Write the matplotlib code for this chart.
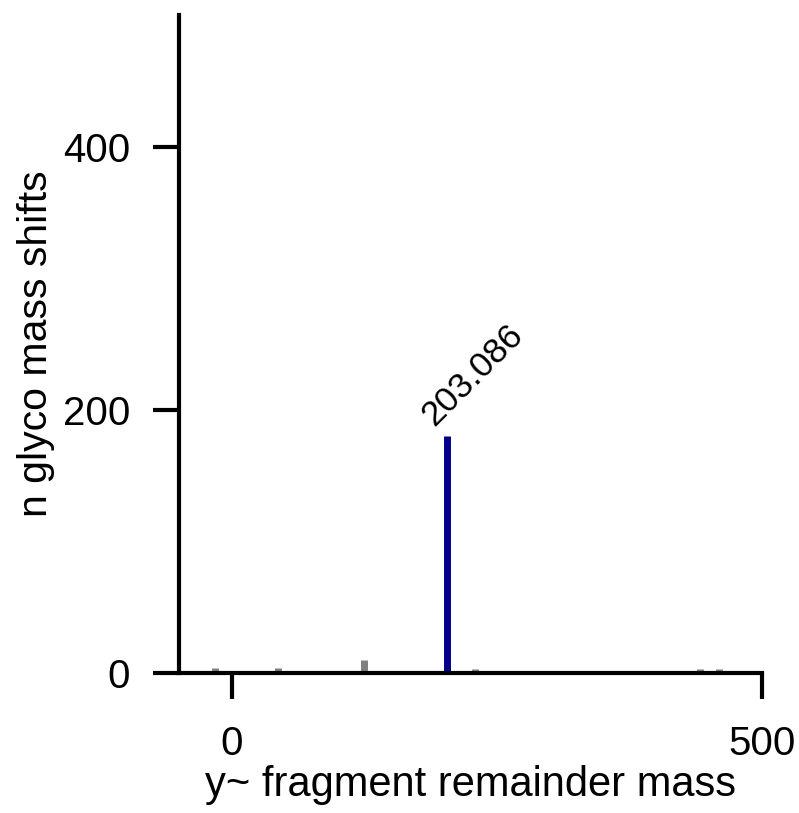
import numpy as np
import matplotlib.pyplot as plt

plt.rcParams['font.family'] = ['Liberation Sans', 'DejaVu Sans']

# mass shift positions and counts (gray = background, blue = highlighted)
bg_mass = [-16, 43, 124, 229, 441, 459]
bg_count = [4, 4, 10, 3, 3, 3]
hit_mass = [203.086]
hit_count = [180]
hit_label = ["203.086"]

fig = plt.figure(figsize=(7.99, 8.13), dpi=100)
ax = fig.add_axes([0.224, 0.172, 0.73, 0.8095])

ax.vlines(bg_mass, 0, bg_count, color="#808080", linewidth=5)
ax.vlines(hit_mass, 0, hit_count, color="#00008b", linewidth=5)
for m, c, lab in zip(hit_mass, hit_count, hit_label):
    ax.text(m - 12.5, c + 7, lab, rotation=45, fontsize=25.5,
            ha="left", va="baseline", rotation_mode="anchor")

ax.set_xlim(-50, 500)
ax.set_ylim(0, 500)
ax.set_xticks([0, 500])
ax.set_yticks([0, 200, 400])

for side in ["top", "right"]:
    ax.spines[side].set_visible(False)
for side in ["left", "bottom"]:
    ax.spines[side].set_linewidth(3)
ax.tick_params(length=19, width=3, labelsize=29)
ax.tick_params(axis="y", pad=16)
ax.tick_params(axis="x", pad=18)

ax.set_xlabel("y~ fragment remainder mass", fontsize=30, labelpad=2)
ax.set_ylabel("n glyco mass shifts", fontsize=29.5, labelpad=6)

fig.savefig("out.png", dpi=100)
